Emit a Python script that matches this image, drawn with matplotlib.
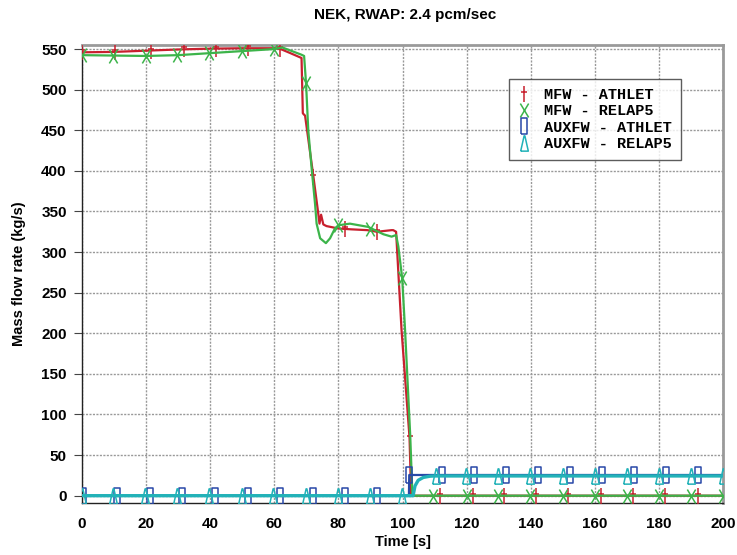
import numpy as np
import matplotlib.pyplot as plt
from matplotlib.lines import Line2D
from matplotlib.path import Path

# MFW - ATHLET (red line)
mfw_athlet_t = [0, 10, 20, 30, 40, 50, 60, 62, 65, 68.5, 68.9, 69.1, 69.6, 72.2, 73.7,
                74.1, 74.6, 75.3, 76.3, 80, 84, 89, 92, 96.6, 97.1, 98, 99.7, 102.2, 102.7, 104, 200]
mfw_athlet_v = [546, 546.5, 548, 549.5, 550.5, 551, 551, 550, 545, 539, 471, 470, 468, 393, 348,
                335, 346, 334, 332, 329, 328, 327, 325, 327, 327, 325, 204, 71, 0, 0, 0]
mfw_athlet_mk_t = [0, 10.3, 21.4, 31.8, 41.7, 51.9, 61.8, 72.2, 82, 92, 102.2,
                   111.7, 121.9, 131.7, 141.7, 151.7, 161.9, 172, 181.9, 192.1]
mfw_athlet_mk_v = [546, 546.5, 548, 549.5, 550.5, 551, 550, 393, 328, 325, 71,
                   0, 0, 0, 0, 0, 0, 0, 0, 0]

# MFW - RELAP5 (green line)
mfw_relap_t = [0, 10, 20, 30, 40, 50, 60, 62.5, 68.5, 69.3, 69.9, 70.6, 71.7, 72.7, 73.2, 74.3,
               76.1, 77.4, 78.9, 80, 83.6, 89.3, 94, 96.6, 98, 98.7, 99.9, 100.8, 102.4, 103.1, 104, 200]
mfw_relap_v = [542.5, 542, 541.5, 542.5, 545, 547.5, 550, 552, 543, 541.5, 508, 450, 401, 360, 335, 317,
               311, 317, 329, 333, 335, 331, 322, 319, 321, 307, 268, 204, 75, 0, 0, 0]
mfw_relap_mk_t = [0, 9.8, 19.9, 29.7, 39.7, 49.8, 59.8, 69.9, 80, 89.9, 99.9,
                  109.6, 120.2, 129.9, 139.8, 150, 160.1, 169.9, 180.1, 190, 200]
mfw_relap_mk_v = [542.5, 542, 541.5, 542.5, 545, 547.5, 550, 508, 333, 329, 268,
                  0, 0, 0, 0, 0, 0, 0, 0, 0, 0]

# AUXFW - ATHLET (blue line)
aux_athlet_t = [0, 102, 102.1, 200]
aux_athlet_v = [0, 0, 25.5, 25.5]
aux_athlet_mk_t = [0.2, 10.8, 21.2, 31.1, 41.5, 51.9, 61.8, 72.1, 82.1, 92.1,
                   102.1, 112.2, 122.4, 132.3, 142.4, 152.3, 162.2, 172.2, 182.2, 192.3]
aux_athlet_mk_v = [0, 0, 0, 0, 0, 0, 0, 0, 0, 0,
                   25.5, 25.5, 25.5, 25.5, 25.5, 25.5, 25.5, 25.5, 25.5, 25.5]

# AUXFW - RELAP5 (cyan line)
aux_relap_t = [0, 103.3, 103.9, 104.9, 106.5, 108.6, 110, 200]
aux_relap_v = [0, 0, 12, 19, 22.5, 24, 24.3, 24.3]
aux_relap_mk_t = [0, 9.8, 19.6, 29.7, 39.7, 49.8, 59.7, 69.9, 80, 89.9, 99.9,
                  110.5, 119.8, 129.9, 139.8, 150, 160.1, 169.9, 180.1, 190, 200]
aux_relap_mk_v = [0, 0, 0, 0, 0, 0, 0, 0, 0, 0, 0,
                  24.3, 24.3, 24.3, 24.3, 24.3, 24.3, 24.3, 24.3, 24.3, 24.3]

red, green, blue, cyan = "#c8202e", "#3cb44a", "#2848a8", "#22b2b8"

# narrow marker shapes like the original plot
plus_mk = Path([(0, -1), (0, 1), (-0.45, 0.3), (0.45, 0.3)],
               [Path.MOVETO, Path.LINETO, Path.MOVETO, Path.LINETO])
x_mk = Path([(-0.6, -1), (0.6, 1), (-0.6, 1), (0.6, -1)],
            [Path.MOVETO, Path.LINETO, Path.MOVETO, Path.LINETO])
rect_mk = [(-0.45, -1), (0.45, -1), (0.45, 1), (-0.45, 1), (-0.45, -1)]
tri_mk = [(-0.5, -1), (0.5, -1), (0.05, 1), (-0.05, 1), (-0.5, -1)]

plt.rcParams['font.family'] = 'Liberation Sans'
plt.rcParams['font.weight'] = 'bold'

fig = plt.figure(figsize=(7.37, 5.55), dpi=100)
ax = fig.add_axes([82/737, 1 - 503/555, 641/737, 458/555])

ax.plot(mfw_athlet_t, mfw_athlet_v, color=red, lw=1.6, zorder=3)
ax.plot(mfw_athlet_mk_t, mfw_athlet_mk_v, ls='none', marker=plus_mk, ms=11, mec=red, mew=1.1, zorder=3)
ax.plot(mfw_relap_t, mfw_relap_v, color=green, lw=1.6, zorder=4)
ax.plot(mfw_relap_mk_t, mfw_relap_mk_v, ls='none', marker=x_mk, ms=10, mec=green, mew=1.1, zorder=4)
ax.plot(aux_athlet_t, aux_athlet_v, color=blue, lw=1.6, zorder=5)
ax.plot(aux_athlet_mk_t, aux_athlet_mk_v, ls='none', marker=rect_mk, ms=11, mfc='none', mec=blue, mew=1.1, zorder=5)
ax.plot(aux_relap_t, aux_relap_v, color=cyan, lw=2.4, zorder=6)
ax.plot(aux_relap_mk_t, aux_relap_mk_v, ls='none', marker=tri_mk, ms=11, mfc='none', mec=cyan, mew=1.1, zorder=6)

ax.set_xlim(0, 200)
ax.set_ylim(-9, 555)
ax.set_xticks(np.arange(0, 201, 20))
ax.set_yticks(np.arange(0, 551, 50))
ax.grid(True, color='#999999', ls=(0, (1.5, 1)), lw=1.0)
ax.set_axisbelow(True)
ax.tick_params(axis='y', length=6, width=0.8, color='#444444', pad=5, labelsize=11)
ax.tick_params(axis='x', length=0, pad=10, labelsize=11)

for s in ['left', 'bottom']:
    ax.spines[s].set_color('#222222')
    ax.spines[s].set_linewidth(1.0)
for s in ['top', 'right']:
    ax.spines[s].set_color('#9a9a9a')
    ax.spines[s].set_linewidth(2.0)

ax.set_xlabel("Time [s]", fontsize=10.5, fontweight='bold', labelpad=3)
ax.set_ylabel("Mass flow rate (kg/s)", fontsize=10.5, fontweight='bold')
ax.yaxis.set_label_coords(-0.088, 0.5)

fig.text(405/737, 1 - 15/555, "NEK, RWAP: 2.4 pcm/sec", ha='center', va='center',
         fontsize=11, fontweight='bold')

handles = [
    Line2D([], [], ls='none', marker=plus_mk, ms=11, mec=red, mew=1.1),
    Line2D([], [], ls='none', marker=x_mk, ms=10, mec=green, mew=1.1),
    Line2D([], [], ls='none', marker=rect_mk, ms=11, mfc='none', mec=blue, mew=1.1),
    Line2D([], [], ls='none', marker=tri_mk, ms=11, mfc='none', mec=cyan, mew=1.1),
]
labels = ["MFW - ATHLET", "MFW - RELAP5", "AUXFW - ATHLET", "AUXFW - RELAP5"]
leg = fig.legend(handles, labels, loc='upper left', bbox_to_anchor=(509/737, 1 - 79/555),
                 prop={'family': 'Liberation Mono', 'weight': 'bold', 'size': 11},
                 frameon=True, fancybox=False, borderaxespad=0, borderpad=0.6,
                 labelspacing=0.15, handlelength=0.8, handletextpad=0.9)
leg.get_frame().set_edgecolor('#333333')
leg.get_frame().set_linewidth(1.0)

fig.savefig("out.png", dpi=100)
